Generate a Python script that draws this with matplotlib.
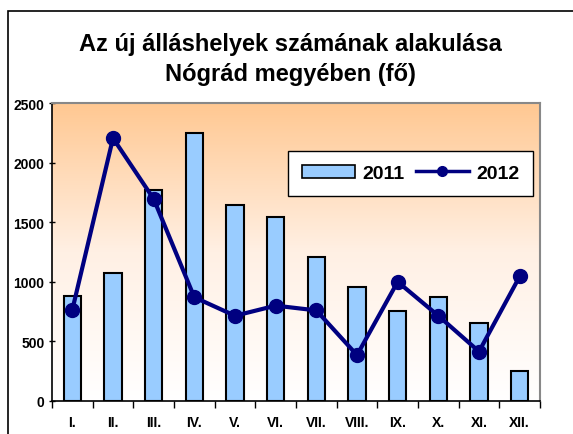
import numpy as np
import matplotlib
matplotlib.use("Agg")
import matplotlib.pyplot as plt
from matplotlib.colors import LinearSegmentedColormap
from matplotlib.lines import Line2D
from matplotlib.patches import Rectangle

categories = ["I.", "II.", "III.", "IV.", "V.", "VI.", "VII.", "VIII.", "IX.", "X.", "XI.", "XII."]
values_2011 = [880, 1070, 1770, 2250, 1645, 1545, 1205, 955, 755, 870, 655, 250]
values_2012 = [765, 2205, 1695, 870, 715, 800, 760, 385, 1000, 715, 415, 1045]
yticks = [0, 500, 1000, 1500, 2000, 2500]

plt.rcParams['font.family'] = ['Liberation Sans', 'DejaVu Sans']

W, H = 573, 435
fig = plt.figure(figsize=(W / 100, H / 100), dpi=100)
ax = fig.add_axes([52 / W, 1 - 402 / H, (540 - 52) / W, (402 - 104) / H])

x = np.arange(len(categories))
ax.set_xlim(-0.5, len(categories) - 0.5)
ax.set_ylim(0, 2500)

# gradient background
cmap = LinearSegmentedColormap.from_list("bg", ["#FFFFFF", "#FFF0E4", "#FFC892"])
grad = np.linspace(0, 1, 256).reshape(-1, 1)
ax.imshow(grad, aspect="auto", cmap=cmap, origin="lower",
          extent=[-0.5, len(categories) - 0.5, 0, 2500], zorder=0)

ax.bar(x, values_2011, width=0.42, color="#99CCFF", edgecolor="black",
       linewidth=1.5, zorder=2, label="2011")
ax.plot(x, values_2012, color="#000080", linewidth=3, marker="o",
        markersize=10, zorder=3, label="2012")

ax.set_yticks(yticks)
ax.set_yticklabels([str(v) for v in yticks], fontsize=10, fontweight="bold")
ax.set_xticks(x)
ax.set_xticklabels(categories, fontsize=10, fontweight="bold")
ax.tick_params(axis="x", length=0, pad=10)
ax.set_xticks(np.arange(-0.5, len(categories), 1), minor=True)
ax.tick_params(axis="x", which="minor", length=5, direction="out", width=1, color="black")
ax.tick_params(axis="y", length=5, direction="inout", width=1, pad=3)

for s in ["top", "right"]:
    ax.spines[s].set_color("#888888")
    ax.spines[s].set_linewidth(1.5)
for s in ["left", "bottom"]:
    ax.spines[s].set_color("black")
    ax.spines[s].set_linewidth(1.2)

fig.text(0.507, 1 - 45 / H, "Az új álláshelyek számának alakulása", ha="center", va="center",
         fontsize=17, fontweight="bold")
fig.text(0.507, 1 - 74 / H, "Nógrád megyében (fő)", ha="center", va="center",
         fontsize=17, fontweight="bold")

handles = [Rectangle((0, 0), 1, 1, facecolor="#99CCFF", edgecolor="black", linewidth=1.2),
           Line2D([0], [0], color="#000080", linewidth=2.5, marker="o", markersize=7)]
leg = ax.legend(handles, ["2011", "2012"], ncol=2, loc="upper left",
                bbox_to_anchor=((288 - 52) / (540 - 52), 1 - (152 - 104) / (402 - 104)),
                frameon=True, fancybox=False, edgecolor="black", framealpha=1,
                prop={"weight": "bold", "size": 14}, handlelength=2.75, columnspacing=0.6,
                handletextpad=0.35, borderpad=0.7, borderaxespad=0)
leg.get_frame().set_linewidth(1.0)

# outer frame
fig.add_artist(Rectangle((8 / W, -0.1), 1.2, 1 - 12 / H + 0.1, transform=fig.transFigure,
                         fill=False, edgecolor="black", linewidth=1.2))

fig.savefig("out.png", dpi=100)
